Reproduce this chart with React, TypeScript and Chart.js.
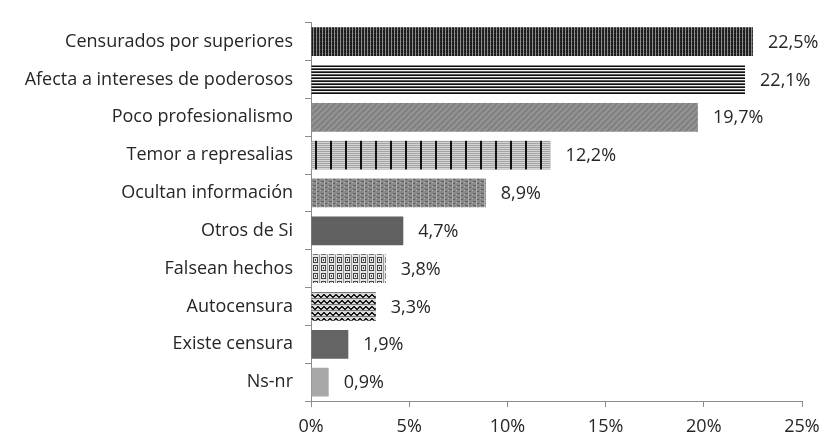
import React, { useEffect, useRef } from "react";
import { Chart, registerables } from "chart.js";

Chart.register(...registerables);

const categories = [
  "Censurados por superiores",
  "Afecta a intereses de poderosos",
  "Poco profesionalismo",
  "Temor a represalias",
  "Ocultan información",
  "Otros de Si",
  "Falsean hechos",
  "Autocensura",
  "Existe censura",
  "Ns-nr",
];
const values = [22.5, 22.1, 19.7, 12.2, 8.9, 4.7, 3.8, 3.3, 1.9, 0.9];
const xTicks = [0, 5, 10, 15, 20, 25];

const FONT = "'Open Sans', 'Noto Sans', sans-serif";

function tile(w: number, h: number, draw: (c: CanvasRenderingContext2D) => void): CanvasPattern | string {
  const cv = document.createElement("canvas");
  cv.width = w;
  cv.height = h;
  const c = cv.getContext("2d");
  if (!c) return "#888";
  draw(c);
  const ctx = document.createElement("canvas").getContext("2d");
  return (ctx && ctx.createPattern(cv, "repeat")) || "#888";
}

function makePatterns() {
  const p1 = tile(3, 4, (c) => {
    c.fillStyle = "#1c1c1c"; c.fillRect(0, 0, 3, 4);
    c.fillStyle = "#8c8c8c"; c.fillRect(1, 0, 1, 4);
    c.fillStyle = "#444"; c.fillRect(2, 1, 1, 1);
  });
  const p2 = tile(4, 3, (c) => {
    c.fillStyle = "#111"; c.fillRect(0, 0, 4, 1);
    c.fillStyle = "#f2f2f2"; c.fillRect(0, 1, 4, 1);
    c.fillStyle = "#5a5a5a"; c.fillRect(0, 2, 4, 1);
  });
  const p3 = tile(6, 6, (c) => {
    c.fillStyle = "#919191"; c.fillRect(0, 0, 6, 6);
    c.fillStyle = "#7c7c7c";
    for (let i = 0; i < 6; i++) { c.fillRect(i, 5 - i, 1, 1); c.fillRect((i + 1) % 6, 5 - i, 1, 1); }
  });
  const p4 = tile(15, 2, (c) => {
    c.fillStyle = "#d4d4d4"; c.fillRect(0, 0, 15, 2);
    c.fillStyle = "#a4a4a4"; c.fillRect(0, 1, 15, 1);
    c.fillStyle = "#111"; c.fillRect(0, 0, 2, 2);
  });
  const p5 = tile(8, 4, (c) => {
    c.fillStyle = "#8a8a8a"; c.fillRect(0, 0, 8, 4);
    c.fillStyle = "#5e5e5e"; c.fillRect(1, 1, 3, 1); c.fillRect(5, 3, 2, 1);
    c.fillStyle = "#b0b0b0"; c.fillRect(4, 0, 1, 4); c.fillRect(0, 2, 1, 1);
  });
  const p6 = tile(4, 4, (c) => {
    c.fillStyle = "#626262"; c.fillRect(0, 0, 4, 4);
    c.fillStyle = "#555"; c.fillRect(0, 0, 1, 1); c.fillRect(2, 2, 1, 1);
  });
  const p7 = tile(8, 8, (c) => {
    c.fillStyle = "#e6e6e6"; c.fillRect(0, 0, 8, 8);
    c.fillStyle = "#444";
    c.fillRect(1, 1, 5, 1); c.fillRect(1, 1, 1, 5); c.fillRect(5, 1, 1, 5);
    c.fillRect(3, 3, 1, 2); c.fillRect(1, 6, 5, 1);
    c.fillStyle = "#999"; c.fillRect(7, 0, 1, 8);
  });
  const p8 = tile(6, 6, (c) => {
    c.fillStyle = "#d8d8d8"; c.fillRect(0, 0, 6, 6);
    c.fillStyle = "#1a1a1a";
    c.fillRect(0, 0, 1, 2); c.fillRect(1, 1, 1, 2); c.fillRect(2, 2, 2, 2); c.fillRect(4, 1, 1, 2); c.fillRect(5, 0, 1, 2);
    c.fillStyle = "#777"; c.fillRect(0, 4, 6, 1);
  });
  return [p1, p2, p3, p4, p5, p6, p7, p8, "#646464", "#a8a8a8"];
}

const labelPlugin = {
  id: "barValueLabels",
  afterDatasetsDraw(chart: any) {
    const ctx = chart.ctx;
    const meta = chart.getDatasetMeta(0);
    ctx.save();
    ctx.font = `18px ${FONT}`;
    ctx.fillStyle = "#262626";
    ctx.textAlign = "left";
    ctx.textBaseline = "middle";
    meta.data.forEach((el: any, i: number) => {
      const v = values[i];
      ctx.fillText(v.toFixed(1).replace(".", ",") + "%", el.x + 15, el.y + 1);
    });
    ctx.restore();
  },
};

export default function App() {
  const ref = useRef<HTMLCanvasElement | null>(null);
  useEffect(() => {
    document.body.style.margin = "0";
    if (!ref.current) return;
    const chart = new Chart(ref.current, {
      type: "bar",
      data: {
        labels: categories,
        datasets: [
          {
            data: values,
            backgroundColor: makePatterns() as any,
            borderWidth: 0,
            barPercentage: 0.76,
            categoryPercentage: 1,
          },
        ],
      },
      options: {
        indexAxis: "y",
        animation: false,
        responsive: false,
        layout: { padding: { top: 2, right: 37, left: 0, bottom: 0 } },
        plugins: { legend: { display: false }, tooltip: { enabled: false } },
        scales: {
          x: {
            min: 0,
            max: 25,
            afterBuildTicks: (s: any) => { s.ticks = xTicks.map((v) => ({ value: v })); },
            ticks: {
              callback: (v: any) => v + "%",
              font: { family: FONT, size: 18 },
              color: "#262626",
              padding: 9,
            },
            grid: { drawOnChartArea: false, color: "#8c8c8c", tickLength: 6 },
            border: { color: "#8c8c8c" },
            afterFit: (s: any) => { s.height = 38; },
          },
          y: {
            ticks: {
              font: { family: FONT, size: 18 },
              color: "#262626",
              padding: 12,
            },
            grid: { drawOnChartArea: false, color: "#8c8c8c", tickLength: 6, offset: true },
            border: { color: "#8c8c8c" },
            afterFit: (s: any) => { s.width = 311; },
          },
        },
      },
      plugins: [labelPlugin],
    });
    return () => chart.destroy();
  }, []);
  return (
    <div style={{ width: 839, height: 439 }}>
      <canvas ref={ref} width={839} height={439} />
    </div>
  );
}
